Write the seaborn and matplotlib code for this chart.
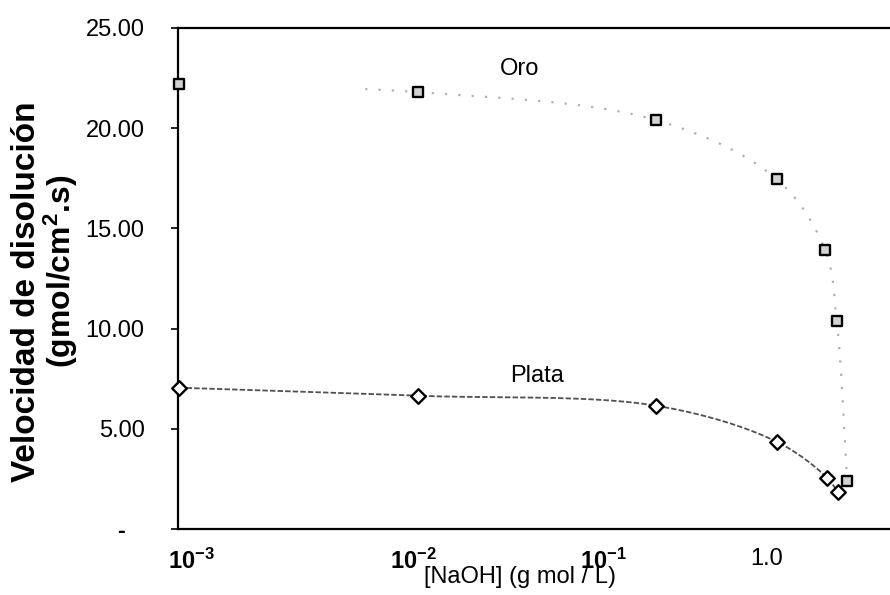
import numpy as np
import matplotlib
matplotlib.use("Agg")
import matplotlib.pyplot as plt
import seaborn as sns
from matplotlib.transforms import ScaledTranslation

# Dissolution rate of gold and silver versus NaOH concentration
oro_x = [0.001, 0.01, 0.1, 0.32, 0.51, 0.57, 0.63]
oro_y = [22.2, 21.8, 20.4, 17.45, 13.9, 10.4, 2.4]
plata_x = [0.001, 0.01, 0.1, 0.32, 0.52, 0.575]
plata_y = [7.05, 6.65, 6.15, 4.35, 2.55, 1.85]

y_ticks = [0, 5, 10, 15, 20, 25]
y_tick_labels = ["-", "5.00", "10.00", "15.00", "20.00", "25.00"]
x_tick_pos = [0.00113, 0.0096, 0.06, 0.29]
x_tick_labels = [r"$\mathbf{10^{-3}}$", r"$\mathbf{10^{-2}}$", r"$\mathbf{10^{-1}}$", "1.0"]

oro_curve_start = 0.006

sns.set_theme(style="white")
plt.rcParams["font.family"] = ["Liberation Sans", "DejaVu Sans"]
plt.rcParams["mathtext.fontset"] = "custom"
plt.rcParams["mathtext.rm"] = "Liberation Sans"
plt.rcParams["mathtext.bf"] = "Liberation Sans:bold"
plt.rcParams["mathtext.it"] = "Liberation Sans:italic"
for key in ["text.color", "axes.labelcolor", "xtick.color", "ytick.color"]:
    plt.rcParams[key] = "black"


def smooth_curve(xs, ys, n=60, sx=239.0, sy=20.0):
    """Centripetal Catmull-Rom curve through the points (log-x space)."""
    pts = np.column_stack([np.log10(xs) * sx, np.asarray(ys) * sy])
    P = np.vstack([2 * pts[0] - pts[1], pts, 2 * pts[-1] - pts[-2]])
    out = []
    for i in range(len(pts) - 1):
        p0, p1, p2, p3 = P[i], P[i + 1], P[i + 2], P[i + 3]
        t0 = 0.0
        t1 = t0 + np.linalg.norm(p1 - p0) ** 0.5
        t2 = t1 + np.linalg.norm(p2 - p1) ** 0.5
        t3 = t2 + np.linalg.norm(p3 - p2) ** 0.5
        t = np.linspace(t1, t2, n)[:, None]
        a1 = (t1 - t) / (t1 - t0) * p0 + (t - t0) / (t1 - t0) * p1
        a2 = (t2 - t) / (t2 - t1) * p1 + (t - t1) / (t2 - t1) * p2
        a3 = (t3 - t) / (t3 - t2) * p2 + (t - t2) / (t3 - t2) * p3
        b1 = (t2 - t) / (t2 - t0) * a1 + (t - t0) / (t2 - t0) * a2
        b2 = (t3 - t) / (t3 - t1) * a2 + (t - t1) / (t3 - t1) * a3
        c = (t2 - t) / (t2 - t1) * b1 + (t - t1) / (t2 - t1) * b2
        out.append(c if i == 0 else c[1:])
    c = np.vstack(out)
    return 10 ** (c[:, 0] / sx), c[:, 1] / sy


fig = plt.figure(figsize=(8.9, 5.95), dpi=100)
ax = fig.add_axes([178 / 890, 66 / 595, 712 / 890, 501 / 595])
ax.set_xscale("log")

# fitted trend curves
ox, oy = smooth_curve(oro_x, oro_y)
keep = ox >= oro_curve_start
sns.lineplot(x=ox[keep], y=oy[keep], sort=False, estimator=None, ax=ax,
             color="#b0b0b0", linewidth=1.6, linestyle=(0, (1, 5)), zorder=2)
px, py = smooth_curve(plata_x, plata_y)
sns.lineplot(x=px, y=py, sort=False, estimator=None, ax=ax,
             color="#505050", linewidth=1.3, linestyle=(0, (3, 1.2)), zorder=2)

# measured points
sns.scatterplot(x=oro_x, y=oro_y, marker="s", s=58, color="#d2d2d2",
                edgecolor="black", linewidth=1.7, ax=ax, zorder=4, clip_on=False)
sns.scatterplot(x=plata_x, y=plata_y, marker="D", s=55, color="white",
                edgecolor="black", linewidth=1.7, ax=ax, zorder=4, clip_on=False)

ax.set_xlim(0.00099, 0.953)
ax.set_ylim(0, 25)

ax.set_yticks(y_ticks)
ax.set_yticklabels(y_tick_labels, fontsize=17)
ax.set_xticks(x_tick_pos)
ax.set_xticklabels(x_tick_labels, fontsize=17)
ax.minorticks_off()
ax.tick_params(axis="y", left=True, length=5, width=1.2, color="black", pad=19)
ax.tick_params(axis="x", bottom=False, length=0, pad=14)

# zero label sits further out from the axis
zero_lbl = ax.get_yticklabels()[0]
zero_lbl.set_fontweight("bold")
zero_lbl.set_transform(zero_lbl.get_transform() + ScaledTranslation(-20 / 100, 0, fig.dpi_scale_trans))

for side in ["left", "bottom", "top"]:
    ax.spines[side].set_visible(True)
    ax.spines[side].set_color("black")
    ax.spines[side].set_linewidth(1.6)
ax.spines["right"].set_visible(False)

ax.text(0.0267, 22.95, "Oro", fontsize=17, ha="center", va="center")
ax.text(0.0315, 7.65, "Plata", fontsize=17, ha="center", va="center")

fig.text(520 / 890, 1 - 577 / 595, "[NaOH] (g mol / L)", fontsize=17,
         ha="center", va="center")
fig.text(27 / 890, 1 - 292 / 595, "Velocidad de disolución", fontsize=24,
         fontweight="bold", rotation=90, ha="center", va="center")
fig.text(61 / 890, 1 - 271 / 595, r"(gmol/cm$\mathbf{^{2}}$.s)", fontsize=23,
         fontweight="bold", rotation=90, ha="center", va="center")

fig.savefig("out.png", dpi=100, facecolor="white")
